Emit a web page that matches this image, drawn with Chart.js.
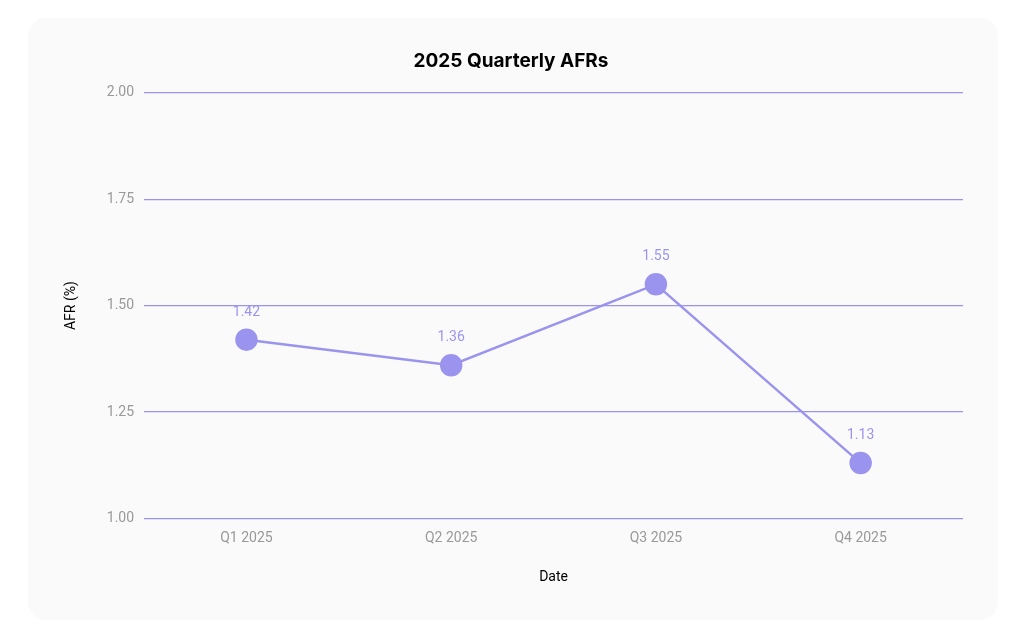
<!DOCTYPE html>
<html><head><meta charset="utf-8">
<script src="https://cdn.jsdelivr.net/npm/chart.js@4"></script>
<style>
html,body{margin:0;padding:0;background:#fff;}
#card{position:absolute;left:28px;top:18px;width:970px;height:602px;background:#fafafa;border-radius:18px;}
#wrap{position:absolute;left:0;top:0;width:1024px;height:633px;}
</style></head><body>
<div id="card"></div>
<div id="wrap"><canvas id="c" width="1024" height="633"></canvas></div>
<script>
const categories = ["Q1 2025","Q2 2025","Q3 2025","Q4 2025"];
const afrValues = [1.42,1.36,1.55,1.13];
const yTicks = [1.00,1.25,1.50,1.75,2.00];
const col = '#9a94ee';
const labelPlugin = {
  id:'lbl',
  afterDatasetsDraw(chart){
    const ctx=chart.ctx, meta=chart.getDatasetMeta(0);
    ctx.save();
    ctx.font='14px Roboto, "Noto Sans", sans-serif';
    ctx.fillStyle=col; ctx.textAlign='center'; ctx.textBaseline='alphabetic';
    meta.data.forEach((p,i)=>{ ctx.fillText(afrValues[i].toFixed(2), p.x, p.y-24); });
    ctx.restore();
  }
};
new Chart(document.getElementById('c'),{
  type:'line',
  data:{labels:categories,datasets:[{data:afrValues,borderColor:col,backgroundColor:col,borderWidth:2.5,pointRadius:10,pointHoverRadius:10,pointBackgroundColor:col,pointBorderColor:col,tension:0}]},
  options:{
    responsive:false,animation:false,
    layout:{padding:{left:59,right:61,top:50,bottom:43}},
    plugins:{legend:{display:false},tooltip:{enabled:false},
      title:{display:true,text:'2025 Quarterly AFRs',color:'#000',font:{family:'Inter, "Liberation Sans", sans-serif',size:19,weight:'bold'},padding:{top:0,bottom:20}}},
    scales:{
      x:{offset:true,grid:{display:false},border:{display:false},
        ticks:{color:'#999',font:{family:'Roboto, sans-serif',size:14},padding:4},
        title:{display:true,text:'Date',color:'#000',font:{family:'Roboto, sans-serif',size:14},padding:{top:18}}},
      y:{min:1,max:2,afterBuildTicks(a){a.ticks=yTicks.map(v=>({value:v}));},
        grid:{color:col,lineWidth:1.2,drawTicks:false},border:{display:false},
        ticks:{color:'#999',font:{family:'Roboto, sans-serif',size:14},padding:10,callback:v=>Number(v).toFixed(2)},
        title:{display:true,text:'AFR (%)',color:'#000',font:{family:'Roboto, sans-serif',size:14},padding:{bottom:17}}}
    }
  },
  plugins:[labelPlugin]
});
</script></body></html>
